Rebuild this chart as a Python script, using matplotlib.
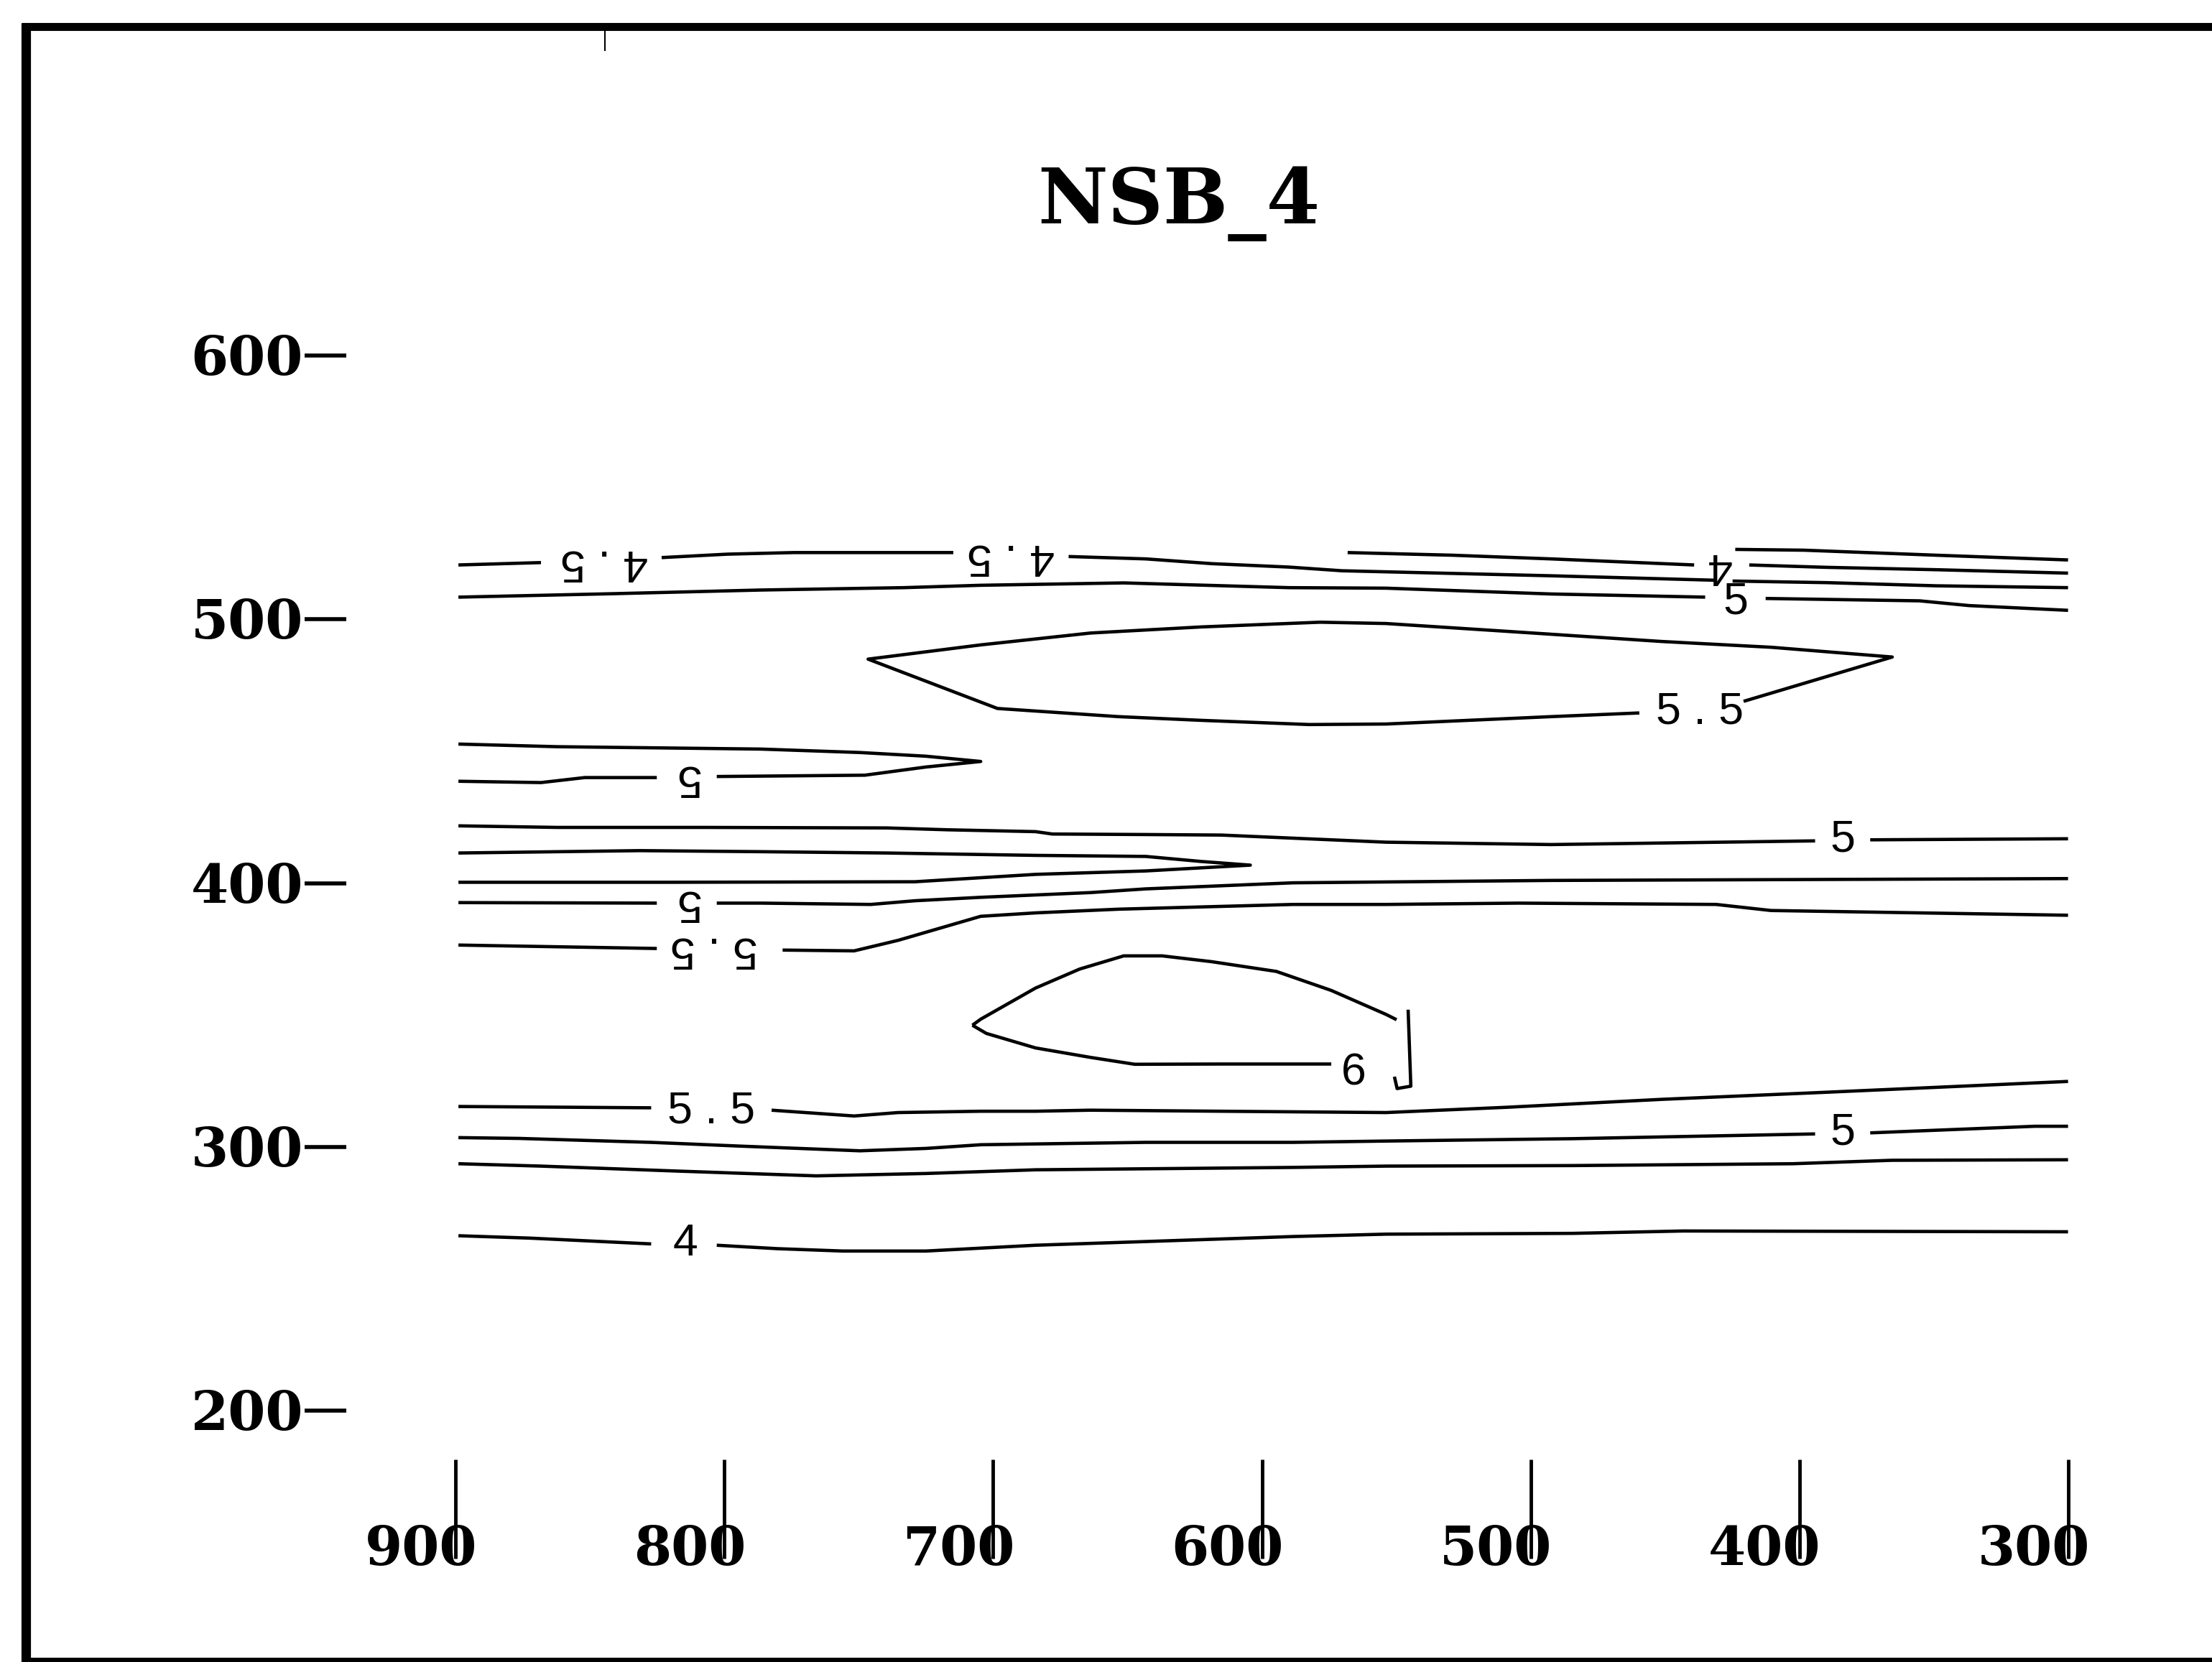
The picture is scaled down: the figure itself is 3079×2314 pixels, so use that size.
import matplotlib
matplotlib.use("Agg")
import matplotlib.pyplot as plt
from matplotlib.lines import Line2D
from matplotlib.transforms import blended_transform_factory, offset_copy

W, H = 3079, 2314

title = "NSB_4"
x_ticks = [900, 800, 700, 600, 500, 400, 300]
x_tick_labels = ["900", "800", "700", "600", "500", "400", "300"]
y_ticks = [600, 500, 400, 300, 200]
y_tick_labels = ["600", "500", "400", "300", "200"]

# ---- contour lines (x, y in data units) ----
# level 4.5, top line (broken at two labels)
a1_x = [898.9, 868.2]
a1_y = [520.6, 521.5]
a2_x = [823.3, 798.7, 774.1, 714.8]
a2_y = [523.4, 524.7, 525.3, 525.3]
a3_x = [671.9, 643.2, 618.7, 590.0, 570.2, 492.4, 431.0]
a3_y = [523.8, 522.9, 521.1, 519.8, 518.4, 516.5, 514.8]
# short upper lines on the right
la_x = [568.1, 529.2, 492.4, 439.2]
la_y = [525.3, 524.3, 522.9, 520.6]
r1_x = [423.9, 398.3, 349.2, 300.1]
r1_y = [526.5, 526.2, 524.3, 522.5]
r2_x = [418.7, 389.9, 349.2, 300.1]
r2_y = [520.6, 519.7, 518.8, 517.5]
r3_x = [424.9, 389.9, 349.2, 300.1]
r3_y = [514.5, 513.9, 512.7, 512.0]
r4_x = [412.6, 355.3, 336.9, 300.1]
r4_y = [507.9, 507.0, 505.2, 503.4]
# line below the top line
b_x = [898.9, 841.7, 786.4, 733.2, 704.6, 651.4, 590.0, 553.8, 492.4, 435.1]
b_y = [508.4, 509.7, 511.1, 512.0, 512.9, 513.8, 512.0, 511.8, 509.6, 508.4]
# level 5.5 closed lens
lens_x = [420.8, 365.5, 410.6, 451.4, 512.8, 553.8, 578.3, 622.7, 663.7, 704.6,
          746.5, 698.4, 653.4, 622.7, 582.4, 553.8, 492.4, 459.6]
lens_y = [468.9, 485.7, 489.4, 491.6, 495.7, 498.4, 498.9, 497.1, 494.8, 490.3,
          484.9, 466.2, 463.1, 461.7, 460.1, 460.3, 463.1, 464.5]
# level 5 upper tongue
t1_x = [898.9, 862.1, 786.4, 749.6, 725.0, 704.6, 725.0, 747.7, 802.8]
t1_y = [452.7, 451.7, 450.8, 449.5, 448.1, 446.1, 444.0, 440.9, 440.4]
t2_x = [825.1, 851.9, 868.2, 898.9]
t2_y = [440.0, 440.0, 438.1, 438.6]
# level 5 line near 420
c1_x = [898.9, 862.1, 806.9, 739.4, 716.9, 684.2, 678.0, 643.2, 615.1, 553.8, 492.4, 394.2]
c1_y = [421.7, 421.1, 421.1, 420.9, 420.2, 419.5, 418.6, 418.4, 418.2, 415.5, 414.6, 416.0]
c2_x = [373.7, 300.1]
c2_y = [416.4, 416.8]
# level 5 lower tongue
u_x = [898.9, 831.4, 786.4, 739.4, 684.2, 643.2, 622.7, 604.3, 618.6, 643.2, 684.2,
       729.1, 821.2, 898.9]
u_y = [411.4, 412.3, 411.9, 411.4, 410.5, 410.1, 408.2, 406.8, 406.0, 404.6, 403.3,
       400.5, 400.3, 400.3]
# level 5 line near 395
e1_x = [898.9, 825.1]
e1_y = [392.6, 392.4]
e2_x = [802.8, 786.4, 745.5, 729.1, 704.6, 663.7, 643.2, 588.4, 492.4, 300.1]
e2_y = [392.4, 392.4, 391.9, 393.3, 394.6, 396.4, 397.8, 400.1, 401.0, 401.7]
# level 5.5 line near 375
f1_x = [898.9, 825.1]
f1_y = [376.5, 375.2]
f2_x = [778.3, 751.7, 735.3, 704.6, 684.2, 653.4, 588.4, 553.8, 504.6, 431.0, 410.6, 300.1]
f2_y = [374.6, 374.3, 378.3, 387.4, 388.7, 390.1, 391.9, 391.9, 392.4, 391.9, 389.6, 387.8]
# level 6 closed contour
s_up_x = [707.7, 704.6, 684.2, 667.8, 651.4, 637.1, 618.7, 594.6, 574.2, 553.8, 549.9]
s_up_y = [346.1, 348.4, 360.2, 367.4, 372.4, 372.4, 370.2, 366.5, 359.3, 350.2, 348.2]
s_lo_x = [707.7, 702.5, 684.2, 663.7, 647.3, 615.1, 574.2]
s_lo_y = [346.1, 343.0, 337.5, 333.9, 331.3, 331.4, 331.4]
s_hook_x = [545.6, 544.6, 549.7, 550.7]
s_hook_y = [352.0, 323.0, 322.1, 326.6]
# level 5.5 line near 315
h1_x = [898.9, 827.2]
h1_y = [315.3, 314.8]
h2_x = [782.4, 751.7, 735.3, 704.6, 684.2, 663.7, 615.1, 553.8, 508.9, 451.4, 390.0, 300.1]
h2_y = [313.9, 311.7, 313.0, 313.5, 313.5, 313.9, 313.5, 313.0, 315.0, 318.0, 320.7, 324.8]
# level 5 line near 303
i1_x = [898.9, 876.4, 827.2, 794.6, 749.6, 725.0, 704.6, 643.2, 588.4, 553.8, 484.3, 394.2]
i1_y = [303.5, 303.2, 301.7, 300.3, 298.5, 299.4, 300.8, 301.7, 301.7, 302.2, 303.1, 304.9]
i2_x = [373.7, 312.4, 300.1]
i2_y = [305.3, 307.8, 307.8]
# line near 292
j_x = [898.9, 868.2, 817.1, 765.9, 725.0, 684.2, 588.4, 553.8, 484.3, 402.5, 365.7, 300.1]
j_y = [293.6, 292.7, 290.8, 289.0, 289.9, 291.3, 292.2, 292.7, 292.9, 293.6, 294.9, 295.1]
# level 4 line
k1_x = [898.9, 872.4, 827.2]
k1_y = [266.3, 265.4, 263.2]
k2_x = [802.8, 780.3, 755.8, 725.0, 684.2, 643.2, 588.4, 553.8, 484.3, 443.4, 300.1]
k2_y = [262.7, 261.4, 260.5, 260.5, 262.7, 264.1, 266.0, 266.9, 267.2, 268.1, 267.8]

# contour labels
label_text = ["4 . 5", "4 . 5", "4", "5", "5 . 5", "5", "5", "5", "5 . 5", "6",
              "5 . 5", "5", "4"]
label_x = [844.7, 693.3, 430.2, 423.9, 437.0, 814.0, 383.9, 814.0, 803.8, 565.9,
           804.8, 383.9, 814.5]
label_y = [521.5, 523.8, 520.4, 506.5, 464.9, 440.0, 416.4, 392.6, 374.7, 327.9,
           313.5, 305.3, 263.2]
label_rot = [180, 180, 180, 0, 0, 180, 0, 180, 180, 0, 0, 0, 0]

segments = [
    (a1_x, a1_y), (a2_x, a2_y), (a3_x, a3_y), (la_x, la_y),
    (r1_x, r1_y), (r2_x, r2_y), (r3_x, r3_y), (r4_x, r4_y), (b_x, b_y),
    (lens_x, lens_y), (t1_x, t1_y), (t2_x, t2_y), (c1_x, c1_y), (c2_x, c2_y),
    (u_x, u_y), (e1_x, e1_y), (e2_x, e2_y), (f1_x, f1_y), (f2_x, f2_y),
    (s_up_x, s_up_y), (s_lo_x, s_lo_y), (s_hook_x, s_hook_y),
    (h1_x, h1_y), (h2_x, h2_y), (i1_x, i1_y), (i2_x, i2_y), (j_x, j_y),
    (k1_x, k1_y), (k2_x, k2_y),
]

fig = plt.figure(figsize=(W / 100, H / 100), dpi=100)
fig.patch.set_facecolor("white")
ax = fig.add_axes([634 / W, 1 - 1964 / H, (2879 - 634) / W, (1964 - 495) / H])
ax.set_xlim(900, 300)
ax.set_ylim(200, 600)
ax.axis("off")

for xs, ys in segments:
    ax.plot(xs, ys, color="black", lw=3.3, clip_on=False, solid_capstyle="butt")

for t, x, y, r in zip(label_text, label_x, label_y, label_rot):
    ax.text(x, y, t, rotation=r, rotation_mode="anchor", ha="center", va="center",
            fontsize=45, family="Liberation Sans", color="black")

# title
fig.text(1641 / W, 1 - 311 / H, title, ha="center", va="baseline",
         fontsize=77, family="DejaVu Serif", weight="bold")

# y ticks (drawn left of the data area)
ty = blended_transform_factory(fig.transFigure, ax.transData)
ty_lab = offset_copy(ty, fig=fig, x=0, y=-27, units="dots")
for v, lab in zip(y_ticks, y_tick_labels):
    ax.plot([424 / W, 482 / W], [v, v], transform=ty, color="black", lw=4,
            clip_on=False, solid_capstyle="butt")
    ax.text(422 / W, v, lab, transform=ty_lab, ha="right", va="baseline",
            fontsize=54, family="DejaVu Serif", weight="bold")

# x ticks (drawn below the data area)
tx = blended_transform_factory(ax.transData, fig.transFigure)
tx_lab = offset_copy(tx, fig=fig, x=30, y=0, units="dots")
for v, lab in zip(x_ticks, x_tick_labels):
    ax.plot([v, v], [1 - 2032 / H, 1 - 2170 / H], transform=tx, color="black", lw=3.5,
            clip_on=False, solid_capstyle="butt")
    ax.text(v, 1 - 2179 / H, lab, transform=tx_lab, ha="right", va="baseline",
            fontsize=54, family="DejaVu Serif", weight="bold")

# page frame (left, top, bottom)
fig.add_artist(Line2D([36 / W, 36 / W], [1 - 32 / H, 0], color="black", lw=9.5,
                      solid_capstyle="butt"))
fig.add_artist(Line2D([30 / W, 1], [1 - 37 / H, 1 - 37 / H], color="black", lw=8,
                      solid_capstyle="butt"))
fig.add_artist(Line2D([30 / W, 1], [1 - 2311 / H, 1 - 2311 / H], color="black", lw=5,
                      solid_capstyle="butt"))
fig.add_artist(Line2D([842 / W, 842 / W], [1 - 40 / H, 1 - 70 / H], color="black", lw=1.5))

fig.savefig("out.png", dpi=100, facecolor="white")
